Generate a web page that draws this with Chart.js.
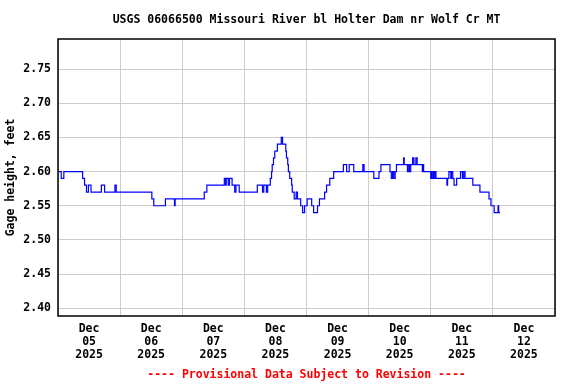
<!DOCTYPE html>
<html>
<head>
<meta charset="utf-8">
<script src="https://cdn.jsdelivr.net/npm/chart.js@4.4.1/dist/chart.umd.min.js"></script>
<style>
  body { margin: 0; background: #fff; }
</style>
</head>
<body>
<canvas id="gage-chart" width="576" height="384"></canvas>
<script>
// hours since Dec 05 2025 00:00 at which the gage reading changed
var changeHours = [
    0, 1.25, 2.25, 9.5, 10.25, 11, 11.75, 12.75, 16.75, 18, 22, 22.5,
    36.25, 37, 41.5, 45, 45.25, 56.5, 57.5, 64.25, 64.75, 65, 65.75, 66.25,
    67.25, 68.25, 68.75, 70, 77, 79, 79.5, 80.5, 81, 82, 82.5, 82.75,
    83.25, 83.75, 84.75, 86.25, 86.75, 88, 88.25, 88.75, 89, 89.5, 90.25, 90.5,
    91.25, 92, 92.5, 93.75, 94.5, 95.25, 96.25, 98, 98.75, 100.25, 101, 103,
    103.75, 105, 106.5, 110.25, 111.5, 112.5, 114.25, 117.75, 118.25, 122, 124, 124.75,
    128.25, 128.75, 129.25, 129.75, 130.25, 130.75, 133.5, 133.75, 135, 135.5, 135.75, 136.25,
    137, 137.5, 138.25, 138.75, 140.75, 141, 141.25, 144, 144.25, 144.5, 145, 145.25,
    145.75, 146, 150.25, 150.5, 151, 151.75, 152, 152.5, 153, 154, 155.5, 156.25,
    156.75, 157.25, 160.25, 163, 166.5, 167.25, 168.5, 170, 170.25, 170.75
];
var gageFeet = [
    2.60, 2.59, 2.60, 2.59, 2.58, 2.57, 2.58, 2.57, 2.58, 2.57, 2.58, 2.57,
    2.56, 2.55, 2.56, 2.55, 2.56, 2.57, 2.58, 2.59, 2.58, 2.59, 2.58, 2.59,
    2.58, 2.57, 2.58, 2.57, 2.58, 2.57, 2.58, 2.57, 2.58, 2.59, 2.60, 2.61,
    2.62, 2.63, 2.64, 2.65, 2.64, 2.63, 2.62, 2.61, 2.60, 2.59, 2.58, 2.57,
    2.56, 2.57, 2.56, 2.55, 2.54, 2.55, 2.56, 2.55, 2.54, 2.55, 2.56, 2.57,
    2.58, 2.59, 2.60, 2.61, 2.60, 2.61, 2.60, 2.61, 2.60, 2.59, 2.60, 2.61,
    2.60, 2.59, 2.60, 2.59, 2.60, 2.61, 2.62, 2.61, 2.60, 2.61, 2.60, 2.61,
    2.62, 2.61, 2.62, 2.61, 2.60, 2.61, 2.60, 2.59, 2.60, 2.59, 2.60, 2.59,
    2.60, 2.59, 2.58, 2.59, 2.60, 2.59, 2.60, 2.59, 2.58, 2.59, 2.60, 2.59,
    2.60, 2.59, 2.58, 2.57, 2.56, 2.55, 2.54, 2.55, 2.54, 2.54
];
var dayLabels = ['05', '06', '07', '08', '09', '10', '11', '12'];
var yTicks = [2.40, 2.45, 2.50, 2.55, 2.60, 2.65, 2.70, 2.75];

var monoFont = '"DejaVu Sans Mono", "Liberation Mono", monospace';

var points = changeHours.map(function (h, i) {
    return { x: h, y: gageFeet[i] };
});

// title, provisional note and the box round the plot
var frameAndText = {
    id: 'frameAndText',
    afterDraw: function (chart) {
        var ctx = chart.ctx;
        var a = chart.chartArea;
        ctx.save();
        ctx.strokeStyle = '#000';
        ctx.lineWidth = 1.5;
        ctx.strokeRect(a.left, a.top, a.right - a.left, a.bottom - a.top);

        ctx.textAlign = 'center';
        ctx.textBaseline = 'middle';
        ctx.font = 'bold 11.5px ' + monoFont;
        ctx.fillStyle = '#000';
        ctx.fillText('USGS 06066500 Missouri River bl Holter Dam nr Wolf Cr MT', (a.left + a.right) / 2, 20);
        ctx.fillStyle = '#ff0000';
        ctx.fillText('---- Provisional Data Subject to Revision ----', (a.left + a.right) / 2, 375);
        ctx.restore();
    }
};

var canvas = document.getElementById('gage-chart');
var ctx = canvas.getContext('2d');
var gageChart = new Chart(ctx, {
    type: 'line',
    data: {
        datasets: [{
            label: 'Gage height',
            data: points,
            borderColor: '#0000ff',
            borderWidth: 1.2,
            pointRadius: 0,
            stepped: true,
            fill: false
        }]
    },
    options: {
        responsive: false,
        animation: false,
        layout: { padding: { left: 0, top: 39, right: 21, bottom: 0 } },
        plugins: {
            legend: { display: false },
            tooltip: { enabled: false }
        },
        scales: {
            x: {
                type: 'linear',
                min: 0,
                max: 192,
                afterFit: function (scale) { scale.height = 68; },
                border: { display: false },
                grid: {
                    drawTicks: false,
                    color: function (c) {
                        return c.tick && c.tick.value % 24 === 0 ? '#cccccc' : 'rgba(0,0,0,0)';
                    }
                },
                ticks: {
                    stepSize: 12,
                    autoSkip: false,
                    maxRotation: 0,
                    padding: 7,
                    color: '#000',
                    font: { family: monoFont, size: 11.5, weight: 'bold', lineHeight: 1.13 },
                    callback: function (v) {
                        if (v % 24 !== 12) return '';
                        return ['Dec', dayLabels[Math.floor(v / 24)], '2025'];
                    }
                }
            },
            y: {
                min: 2.3887,
                max: 2.7939,
                afterFit: function (scale) { scale.width = 58; },
                afterBuildTicks: function (scale) {
                    scale.ticks = yTicks.map(function (v) { return { value: v }; });
                },
                border: { display: false },
                grid: { drawTicks: false, color: '#cccccc' },
                ticks: {
                    padding: 7,
                    color: '#000',
                    font: { family: monoFont, size: 11.5, weight: 'bold' },
                    callback: function (v) { return Number(v).toFixed(2); }
                },
                title: {
                    display: true,
                    text: 'Gage height, feet',
                    color: '#000',
                    padding: { top: 4, bottom: 0 },
                    font: { family: monoFont, size: 11.5, weight: 'bold' }
                }
            }
        }
    },
    plugins: [frameAndText]
});
</script>
</body>
</html>
